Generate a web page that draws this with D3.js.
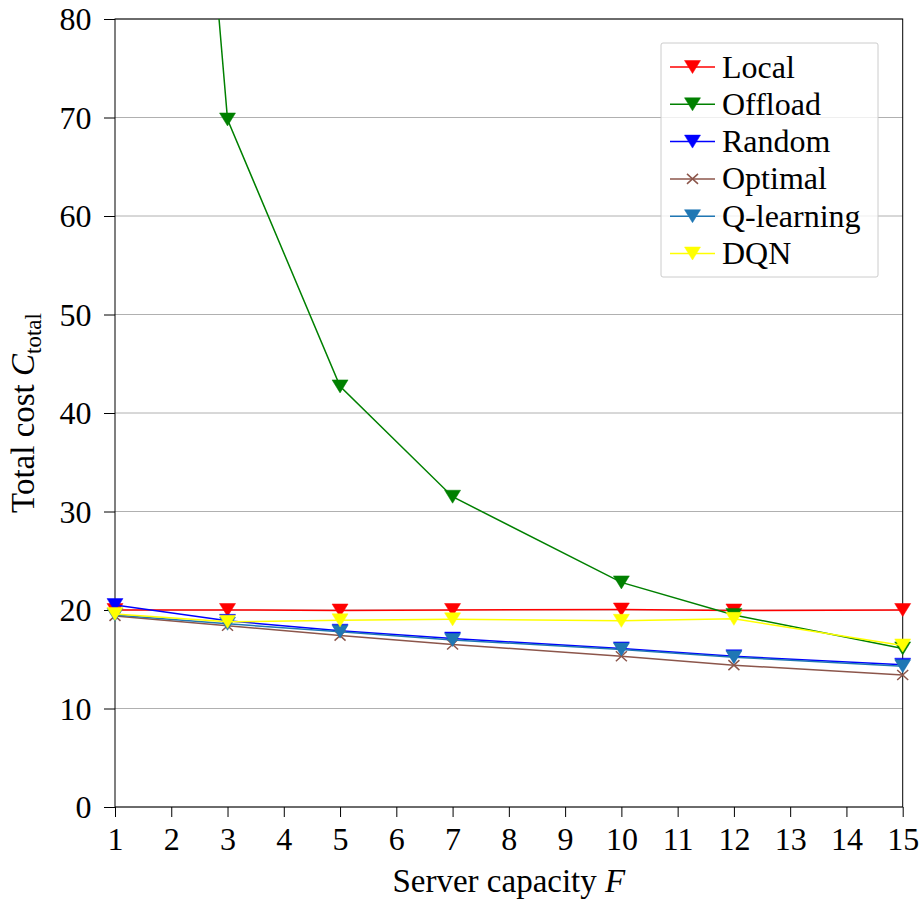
<!DOCTYPE html>
<html><head><meta charset="utf-8">
<script src="https://cdn.jsdelivr.net/npm/d3@7"></script>
<style>body{margin:0;background:#fff}svg{display:block}</style>
</head><body><svg id="c" width="923" height="904"></svg>
<script>
const capacities = [1, 3, 5, 7, 10, 12, 15];
const local    = [20.0, 20.0, 19.95, 20.0, 20.05, 19.95, 20.0];
const offload  = [205, 69.8, 42.7, 31.5, 22.8, 19.5, 16.1];
const random   = [20.5, 18.9, 17.9, 17.1, 16.1, 15.3, 14.45];
const optimal  = [19.4, 18.4, 17.4, 16.5, 15.3, 14.4, 13.4];
const qlearn   = [19.5, 18.6, 17.8, 16.95, 16.0, 15.2, 14.3];
const dqn      = [19.6, 18.8, 18.95, 19.05, 18.9, 19.1, 16.4];
const xTicks = d3.range(1, 16);
const yTicks = d3.range(0, 81, 10);
const seriesNames = ["Local", "Offload", "Random", "Optimal", "Q-learning", "DQN"];
const seriesValues = [local, offload, random, optimal, qlearn, dqn];
const seriesColors = ["#ff0000", "#008000", "#0000ff", "#8c564b", "#1f77b4", "#ffff00"];
const seriesMarkers = ["v", "v", "v", "x", "v", "v"];
const FONT = "Liberation Serif";

const svg = d3.select("#c");
const L = 115, R = 902.7, T = 19, B = 807;
const x = d3.scaleLinear().domain([1, 15]).range([L, R]);
const y = d3.scaleLinear().domain([0, 80]).range([B, T]);

const defs = svg.append("defs");
defs.append("clipPath").attr("id", "clip").append("rect")
  .attr("x", L).attr("y", T).attr("width", R - L).attr("height", B - T);

svg.append("g").selectAll("line").data(yTicks).join("line")
  .attr("x1", L).attr("x2", R).attr("y1", d => y(d)).attr("y2", d => y(d))
  .attr("stroke", "#b0b0b0").attr("stroke-width", 1);

const xAxis = svg.append("g").attr("transform", `translate(0,${B})`)
  .call(d3.axisBottom(x).tickValues(xTicks).tickFormat(d3.format("d")).tickSize(10).tickPadding(6));
const yAxis = svg.append("g").attr("transform", `translate(${L},0)`)
  .call(d3.axisLeft(y).tickValues(yTicks).tickSize(11).tickPadding(12.5));
[xAxis, yAxis].forEach(g => {
  g.attr("font-family", null).attr("font-size", null);
  g.select(".domain").remove();
  g.selectAll("text").attr("fill", "#000").attr("font-family", FONT).attr("font-size", 32);
  g.selectAll("line").attr("stroke", "#000");
});
xAxis.selectAll("text").attr("y", 43).attr("dy", 0);
yAxis.selectAll("text").attr("dy", "0.33em");

svg.append("rect").attr("x", L).attr("y", T).attr("width", R - L).attr("height", B - T)
  .attr("fill", "none").attr("stroke", "#000").attr("stroke-width", 1);

function drawMarker(g, type, color) {
  if (type === "v") {
    g.append("path").attr("d", "M-8,-6.5L8,-6.5L0,6.5Z").attr("fill", color).attr("stroke", color).attr("stroke-width", 0.5);
  } else {
    g.append("path").attr("d", "M-5.5,-5L5.5,5M-5.5,5L5.5,-5").attr("stroke", color).attr("stroke-width", 1.5).attr("fill", "none");
  }
}

const line = d3.line().x((d, i) => x(capacities[i])).y(d => y(d));
seriesValues.forEach((vals, k) => {
  const g = svg.append("g");
  g.append("path").datum(vals).attr("d", line).attr("fill", "none").attr("clip-path", "url(#clip)")
    .attr("stroke", seriesColors[k]).attr("stroke-width", 1.5);
  vals.forEach((v, i) => {
    if (v > 80) return;
    const m = g.append("g").attr("transform", `translate(${x(capacities[i])},${y(v)})`);
    drawMarker(m, seriesMarkers[k], seriesColors[k]);
  });
});

const xl = svg.append("text").attr("x", (L + R) / 2).attr("y", 892).attr("text-anchor", "middle")
  .attr("font-family", FONT).attr("font-size", 33).attr("fill", "#000");
xl.append("tspan").text("Server capacity ");
xl.append("tspan").attr("font-style", "italic").text("F");

const yl = svg.append("text").attr("transform", `translate(34,${(T + B) / 2}) rotate(-90)`).attr("text-anchor", "middle")
  .attr("font-family", FONT).attr("font-size", 33).attr("fill", "#000");
yl.append("tspan").text("Total cost ");
yl.append("tspan").attr("font-style", "italic").text("C");
yl.append("tspan").attr("font-size", 23).attr("dy", 7).text("total");

const lg = svg.append("g");
lg.append("rect").attr("x", 661).attr("y", 43).attr("width", 217).attr("height", 234).attr("rx", 2)
  .attr("fill", "#fff").attr("fill-opacity", 0.8).attr("stroke", "#cccccc").attr("stroke-width", 1);
seriesNames.forEach((n, k) => {
  const yy = 67 + k * 37.3;
  const r = lg.append("g").attr("transform", `translate(0,${yy})`);
  r.append("line").attr("x1", 670).attr("x2", 715).attr("y1", 0).attr("y2", 0)
    .attr("stroke", seriesColors[k]).attr("stroke-width", 1.5);
  const m = r.append("g").attr("transform", "translate(692.5,0)");
  drawMarker(m, seriesMarkers[k], seriesColors[k]);
  r.append("text").attr("x", 722).attr("y", 0).attr("dy", "0.33em")
    .attr("font-family", FONT).attr("font-size", 32).attr("fill", "#000").text(n);
});
</script></body></html>
